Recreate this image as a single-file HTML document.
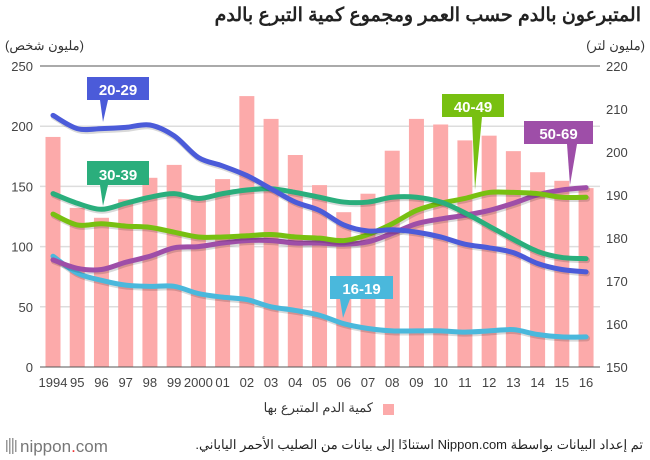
<!DOCTYPE html>
<html><head><meta charset="utf-8">
<style>
body{margin:0;width:650px;height:460px;background:#fff;overflow:hidden;font-family:"Liberation Sans","Noto Sans CJK SC",sans-serif;position:relative;}
svg text{font-family:"Liberation Sans","Noto Sans CJK SC",sans-serif;}
.rt{position:absolute;direction:rtl;text-align:right;white-space:nowrap;}
</style></head>
<body>
<svg id="chart" width="650" height="460" xmlns="http://www.w3.org/2000/svg" style="position:absolute;left:0;top:0">
<g id="grid"></g><g id="bars"></g><g id="lines"></g><g id="axes"></g><g id="labels"></g>
<rect x="383" y="404" width="11" height="11" fill="#fcaaaa"/>
<g>
<rect x="6" y="440" width="1.5" height="12" fill="#999"/><rect x="9" y="438" width="1.5" height="16" fill="#999"/><rect x="12" y="438" width="1.5" height="16" fill="#999"/><rect x="15" y="440" width="1.5" height="12" fill="#999"/>
<text x="20" y="452" font-size="17" fill="#777">nippon<tspan fill="#e33">.</tspan>com</text>
</g>
</svg>
<div class="rt" style="right:9px;top:4px;font-size:19px;font-weight:bold;color:#222;">المتبرعون بالدم حسب العمر ومجموع كمية التبرع بالدم</div>
<div class="rt" style="left:5px;top:38px;font-size:13px;color:#333;">(مليون شخص)</div>
<div class="rt" style="right:5px;top:38px;font-size:13px;color:#333;">(مليون لتر)</div>
<div class="rt" style="right:277px;top:400px;font-size:13px;color:#333;">كمية الدم المتبرع بها</div>
<div class="rt" style="right:7px;top:437px;font-size:13px;color:#222;">تم إعداد البيانات بواسطة Nippon.com استنادًا إلى بيانات من الصليب الأحمر الياباني.</div>
<script>
const years=["1994","95","96","97","98","99","2000","01","02","03","04","05","06","07","08","09","10","11","12","13","14","15","16"];
const bloodVolume=[203.5,187,184.7,189,194,197,189,193.7,213,207.7,199.3,192.3,186,190.3,200.3,207.7,206.4,202.7,203.8,200.2,195.3,193.3,191.6];
const age2029=[209,198,198,199,201,192,174,167,159,148,137,130,118,113,114,112,108,102,99,95,86,81,79];
const age3039=[144,136,131,136,141,144,140,144,147,148,145,141,137,137,141,141,137,128,117,106,96,91,90];
const age4049=[127,118,119,117,116,112,108,108,109,110,108,107,105,110,119,130,136,140,145,145,144,141,141];
const age5069=[89,82,81,87,92,99,100,103,105,105,103,103,102,104,111,119,123,126,130,136,143,147,149];
const age1619=[92,78,72,68,67,67,61,58,56,50,47,43,36,32,30,30,30,29,30,31,27,25,25];
const leftTicks=[0,50,100,150,200,250];
const rightTicks=[150,160,170,180,190,200,210,220];
const NS="http://www.w3.org/2000/svg";
const X0=53,STEP=24.23,Y0=367,Y1=66,PL=40,PR=600;
const xs=i=>X0+i*STEP;
const yL=v=>Y0-(v/250)*(Y0-Y1);
const yR=v=>Y0-((v-150)/70)*(Y0-Y1);
function mk(tag,attrs,parent){const e=document.createElementNS(NS,tag);for(const k in attrs)e.setAttribute(k,attrs[k]);parent.appendChild(e);return e;}
const grid=document.getElementById('grid'),axes=document.getElementById('axes');
leftTicks.forEach(t=>{
 const edge=t===250||t===0;
 const g=mk('line',{x1:PL,x2:PR,y1:yL(t),y2:yL(t),stroke:edge?'#555':'#ddd','stroke-width':edge?1:1.5},edge?axes:grid);
 
 
 const l=mk('text',{x:33,y:yL(t)+5,'text-anchor':'end','font-size':13,fill:'#444'},axes);l.textContent=t;
 
 
});
rightTicks.forEach(t=>{
 const l=mk('text',{x:606,y:yR(t)+5,'font-size':13,fill:'#444'},axes);l.textContent=t;
 
 
});
years.forEach((y,i)=>{
 const l=mk('text',{x:xs(i),y:387,'text-anchor':'middle','font-size':13,fill:'#444'},axes);l.textContent=y;
 
 
});
const bars=document.getElementById('bars');
bloodVolume.forEach((v,i)=>{
 const r=mk('rect',{x:xs(i)-7.5,y:yR(v),width:15,height:Y0-yR(v),fill:'#fcaaaa'},bars);
 
 
});
function smooth(pts){let d='M'+pts[0][0]+','+pts[0][1];for(let i=0;i<pts.length-1;i++){const p0=pts[i-1]||pts[i],p1=pts[i],p2=pts[i+1],p3=pts[i+2]||p2;const c1=[p1[0]+(p2[0]-p0[0])/6,p1[1]+(p2[1]-p0[1])/6],c2=[p2[0]-(p3[0]-p1[0])/6,p2[1]-(p3[1]-p1[1])/6];d+=' C'+c1+' '+c2+' '+p2;}return d;}
const lines=document.getElementById('lines');
const series=[[age1619,'#4ab8dc','16-19'],[age5069,'#9e4ea8','50-69'],[age4049,'#78c011','40-49'],[age3039,'#2aae7c','30-39'],[age2029,'#4b5bd9','20-29']];
series.forEach(([arr,c,n])=>{
 const d=smooth(arr.map((v,i)=>[xs(i),yL(v)]));
 mk('path',{d:d,fill:'none',stroke:'rgba(0,0,0,0.15)','stroke-width':6,transform:'translate(1,1.5)','stroke-linecap':'round'},lines);
 const p=mk('path',{d:d,fill:'none',stroke:c,'stroke-width':5,'stroke-linecap':'round','stroke-linejoin':'round'},lines);
 
 
});
const labels=document.getElementById('labels');
[['20-29','#4b5bd9',87,77,62,23,100,108,122],['30-39','#2aae7c',87,161,62,24,100,108,206],['40-49','#78c011',442,94,62,23,472,482,190],['50-69','#9e4ea8',524,121,69,23,567,577,185],['16-19','#4ab8dc',330,276,63,23,340,350,318]].forEach(([t,c,x,y,w,h,px1,px2,ty])=>{
 const g=mk('g',{},labels);
 
 
 mk('rect',{x:x,y:y,width:w,height:h,fill:c},g);
 mk('polygon',{points:px1+','+(y+h)+' '+px2+','+(y+h)+' '+(px1+3)+','+ty,fill:c},g);
 const tx=mk('text',{x:x+w/2,y:y+h-5,'text-anchor':'middle','font-size':15,'font-weight':'bold',fill:'#fff'},g);tx.textContent=t;
});
</script>
</body></html>
